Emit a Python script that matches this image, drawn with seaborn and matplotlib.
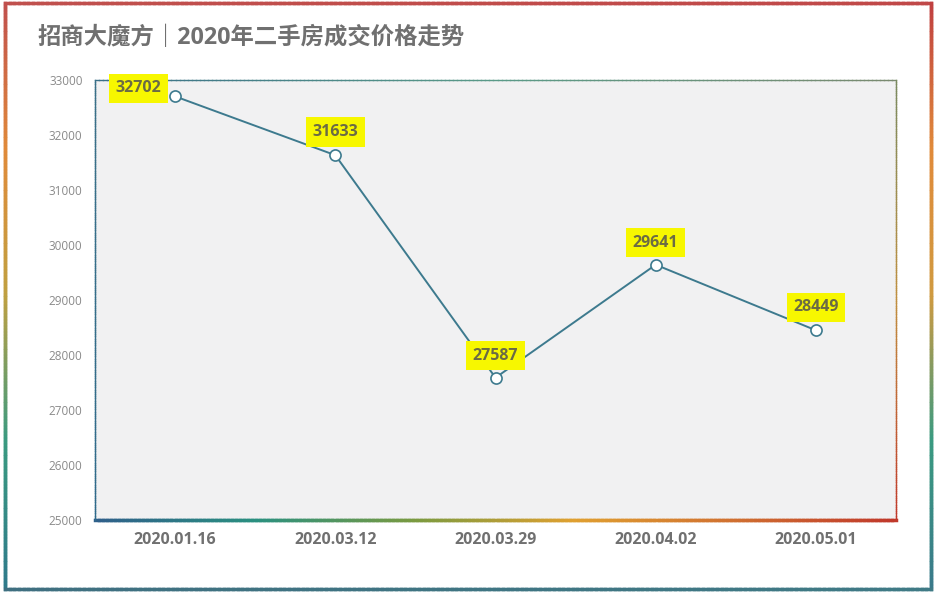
import numpy as np
import pandas as pd
import matplotlib
matplotlib.use("Agg")
import matplotlib.pyplot as plt
import seaborn as sns
from matplotlib.collections import LineCollection
from matplotlib.colors import LinearSegmentedColormap

dates = ["2020.01.16", "2020.03.12", "2020.03.29", "2020.04.02", "2020.05.01"]
prices = [32702, 31633, 27587, 29641, 28449]
y_ticks = [25000, 26000, 27000, 28000, 29000, 30000, 31000, 32000, 33000]
title = "招商大魔方｜2020年二手房成交价格走势"

df = pd.DataFrame({"date": dates, "price": prices})

sns.set_theme(style="white")
plt.rcParams["font.family"] = ["Open Sans", "Noto Sans CJK SC", "DejaVu Sans"]

line_color = "#3d7a8e"
text_gray = "#707070"

fig = plt.figure(figsize=(9.36, 6.02), dpi=100)
W, H = 936, 602

# plot area in pixels: x 95..896, y 80..520
ax = fig.add_axes([95 / W, 1 - 520 / H, (896 - 95) / W, (520 - 80) / H])
ax.set_facecolor("#f1f1f2")

sns.lineplot(data=df, x="date", y="price", ax=ax, color=line_color,
             linewidth=1.4, marker="o", markersize=8,
             markerfacecolor="white", markeredgecolor=line_color,
             markeredgewidth=1.2, sort=False)

ax.set_xlim(-0.5, len(dates) - 0.5)
ax.set_ylim(25000, 33000)
ax.set_yticks(y_ticks)
ax.set_yticklabels([str(v) for v in y_ticks], fontsize=8.5, color="#8a8a8a")
ax.set_xticks(range(len(dates)))
ax.set_xticklabels(dates, fontsize=11.5, fontweight="bold", color=text_gray)
ax.tick_params(axis="x", length=0, pad=9)
ax.tick_params(axis="y", length=0, pad=9)
ax.set_xlabel("")
ax.set_ylabel("")
for s in ax.spines.values():
    s.set_visible(False)

# value labels
offsets = [(-37, 8), (0, 23), (0, 22), (0, 22), (0, 23)]
for i, (v, (dx, dy)) in enumerate(zip(prices, offsets)):
    ax.annotate(str(v), (i, v), xytext=(dx, dy), textcoords="offset pixels",
                ha="center", va="center", fontsize=11.5, fontweight="bold",
                color="#6b6b45",
                bbox=dict(boxstyle="square,pad=0.42", fc="#f7f700", ec="none"))


def grad_line(axis, xs, ys, colors, lw, transform):
    cmap = LinearSegmentedColormap.from_list("g", colors)
    n = 200
    px = np.linspace(xs[0], xs[1], n)
    py = np.linspace(ys[0], ys[1], n)
    pts = np.array([px, py]).T.reshape(-1, 1, 2)
    segs = np.concatenate([pts[:-1], pts[1:]], axis=1)
    lc = LineCollection(segs, colors=cmap(np.linspace(0, 1, n - 1)),
                        linewidths=lw, transform=transform, clip_on=False,
                        capstyle="projecting")
    axis.add_collection(lc)


# gradient spines of the plot area
t = ax.transAxes
grad_line(ax, (0, 1), (0, 0),
          ["#2f5f8a", "#2a9080", "#7a9a40", "#e0a030", "#d07030", "#c0392b"], 2.5, t)
grad_line(ax, (0, 0), (0, 1), ["#2f6a8a", "#3a7088"], 1.0, t)
grad_line(ax, (0, 1), (1, 1), ["#3a7088", "#5a9a88", "#7a8a70"], 1.0, t)
grad_line(ax, (1, 1), (1, 0), ["#7a8a60", "#c09040", "#c0392b"], 1.0, t)

# outer gradient frame
fx0, fx1 = 5 / W, 931 / W
fy0, fy1 = 1 - 589 / H, 1 - 3 / H
ft = fig.transFigure
grad_line(ax, (fx0, fx1), (fy1, fy1), ["#c0504d", "#c04848"], 2.5, ft)
grad_line(ax, (fx0, fx0), (fy1, fy0),
          ["#c0504d", "#e08a3a", "#c0a040", "#3a9a80", "#2f7a8a"], 2.5, ft)
grad_line(ax, (fx1, fx1), (fy1, fy0),
          ["#c04040", "#e08a3a", "#d09a40", "#3a9a80", "#3a7a8a"], 2.5, ft)
grad_line(ax, (fx0, fx1), (fy0, fy0), ["#3f6f80", "#3f7a85"], 2.5, ft)

fig.text(37 / W, 1 - 38 / H, title, fontsize=16.8, fontweight="bold",
         color=text_gray, ha="left", va="center")

fig.savefig("out.png", dpi=100, facecolor="white")
